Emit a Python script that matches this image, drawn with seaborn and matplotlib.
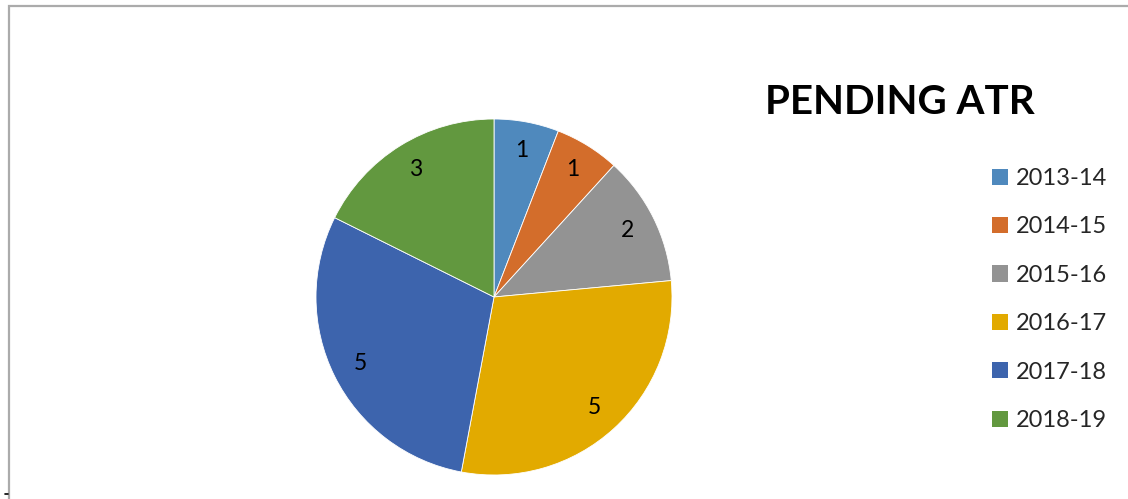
import matplotlib
matplotlib.use("Agg")
import matplotlib.pyplot as plt
import seaborn as sns
from matplotlib.patches import Rectangle, Patch
from matplotlib.lines import Line2D

years = ["2013-14", "2014-15", "2015-16", "2016-17", "2017-18", "2018-19"]
pending = [1, 1, 2, 5, 5, 3]
slice_colors = ["#4F89BD", "#D36D2B", "#939393", "#E2AA00", "#3D64AD", "#62983F"]
title = "PENDING ATR"

sns.set_style("white")
plt.rcParams["font.family"] = ["Lato", "DejaVu Sans"]

W, H = 1128, 499
fig = plt.figure(figsize=(W / 100, H / 100), dpi=100)

# pie centred at (494, 297) px with radius 178 px
cx, cy, r = 494, 297, 178
ax = fig.add_axes([(cx - r) / W, (H - cy - r) / H, 2 * r / W, 2 * r / H])
wedges, texts = ax.pie(
    pending,
    colors=slice_colors,
    startangle=90,
    counterclock=False,
    labels=[str(v) for v in pending],
    labeldistance=0.84,
    wedgeprops=dict(linewidth=0.6, edgecolor="white"),
    textprops=dict(fontsize=16.5, color="black", ha="center", va="center"),
)
ax.set_xlim(-1, 1)
ax.set_ylim(-1, 1)
ax.set_aspect("equal")
ax.axis("off")

fig.text(765 / W, 1 - 103 / H, title, fontsize=29, fontweight="bold",
         color="black", ha="left", va="center")

handles = [Patch(facecolor=c, edgecolor="none") for c in slice_colors]
fig.legend(handles, years, loc="upper left", bbox_to_anchor=(992 / W, 1 - 168 / H),
           frameon=False, fontsize=17, handlelength=0.68, handleheight=0.68,
           handletextpad=0.35, labelspacing=1.16, borderpad=0, borderaxespad=0)

# outer chart frame (top and left edges visible)
fig.add_artist(Rectangle((9 / W, -0.2), 1.2, 1.2 - 6 / H, transform=fig.transFigure,
                         facecolor="none", edgecolor="#ABABAB", linewidth=1.6))
fig.add_artist(Line2D([5 / W, 8 / W], [1 - 494 / H, 1 - 494 / H],
                      transform=fig.transFigure, color="black", linewidth=1.2))

fig.savefig("out.png", dpi=100)
